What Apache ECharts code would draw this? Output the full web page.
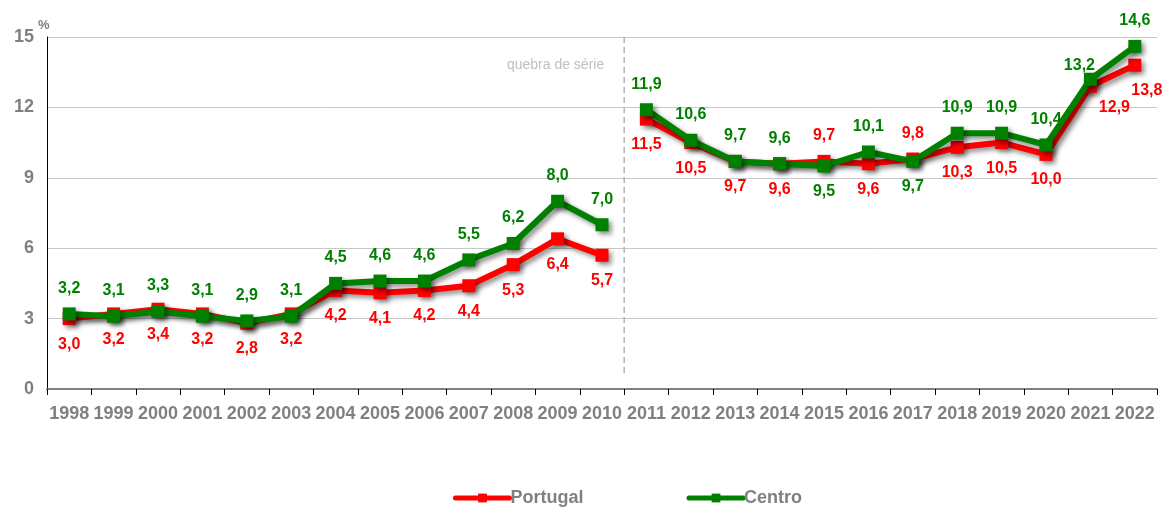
<!DOCTYPE html>
<html>
<head>
<meta charset="utf-8">
<script src="https://cdn.jsdelivr.net/npm/echarts@6/dist/echarts.min.js"></script>
<style>
  html, body { margin: 0; padding: 0; background: #fff; }
  #chart { width: 1165px; height: 507px; }
</style>
</head>
<body>
<div id="chart"></div>
<script>
// Years on the category axis
const years = ['1998','1999','2000','2001','2002','2003','2004','2005','2006','2007','2008','2009','2010',
               '2011','2012','2013','2014','2015','2016','2017','2018','2019','2020','2021','2022'];
// Values in %
const portugal = [3.0, 3.2, 3.4, 3.2, 2.8, 3.2, 4.2, 4.1, 4.2, 4.4, 5.3, 6.4, 5.7,
                  11.5, 10.5, 9.7, 9.6, 9.7, 9.6, 9.8, 10.3, 10.5, 10.0, 12.9, 13.8];
const centro   = [3.2, 3.1, 3.3, 3.1, 2.9, 3.1, 4.5, 4.6, 4.6, 5.5, 6.2, 8.0, 7.0,
                  11.9, 10.6, 9.7, 9.6, 9.5, 10.1, 9.7, 10.9, 10.9, 10.4, 13.2, 14.6];
const yTicks = [0, 3, 6, 9, 12, 15];
const breakAfter = '2010';       // last year before the series break
const breakLabel = 'quebra de série';

const RED = '#ff0000', GREEN = '#008000', GREY = '#808080';
const font = 'Liberation Sans, Arial, sans-serif';

// Label placement overrides (index → position / offset)
const portugalLabelPos = { 17: 'top', 19: 'top' };
const centroLabelPos   = { 17: 'bottom', 19: 'bottom' };
const portugalOffset   = { 23: [24, -4], 24: [12, 0] };
const centroOffset     = { 23: [-11, 12] };

const fmt = p => (typeof p.value === 'number' ? p.value.toFixed(1).replace('.', ',') : '');

// Split a series into two runs so the line is not drawn across the break
function seriesPair(name, values, color, defaultPos, posMap, offMap, z) {
  const cut = years.indexOf(breakAfter);
  const items = values.map((v, i) => {
    const lbl = { position: posMap[i] || defaultPos };
    if (offMap[i]) lbl.offset = offMap[i];
    return { value: v, label: lbl };
  });
  const runs = [items.map((d, i) => i <= cut ? d : '-'), items.map((d, i) => i > cut ? d : '-')];
  const shadow = { shadowColor: 'rgba(0,0,0,0.45)', shadowBlur: 5, shadowOffsetX: 3, shadowOffsetY: 3 };
  return runs.map(run => ({
    name: name,
    type: 'line',
    data: run,
    z: z,
    symbol: 'rect',
    symbolSize: 13,
    color: color,
    lineStyle: Object.assign({ width: 6, color: color }, shadow),
    itemStyle: Object.assign({ color: color }, shadow),
    label: {
      show: true, formatter: fmt, distance: 11,
      color: color, fontFamily: font, fontWeight: 'bold', fontSize: 16
    },
    emphasis: { disabled: true },
    animation: false
  }));
}

const series = [
  ...seriesPair('Portugal', portugal, RED, 'bottom', portugalLabelPos, portugalOffset, 2),
  ...seriesPair('Centro', centro, GREEN, 'top', centroLabelPos, centroOffset, 3)
];

const chart = echarts.init(document.getElementById('chart'), null, { renderer: 'canvas' });
chart.setOption({
  animation: false,
  grid: { left: 47, right: 8, top: 37, bottom: 118 },
  legend: {
    data: [
      { name: 'Portugal', itemStyle: { color: RED }, lineStyle: { color: RED, width: 5 } },
      { name: 'Centro', itemStyle: { color: GREEN }, lineStyle: { color: GREEN, width: 5 } }
    ],
    top: 484, left: 448, itemGap: 103, itemWidth: 54, itemHeight: 11,
    itemStyle: { shadowBlur: 0, shadowOffsetX: 0, shadowOffsetY: 0 },
    lineStyle: { width: 5, cap: 'round', shadowBlur: 0, shadowOffsetX: 0, shadowOffsetY: 0 },
    textStyle: { color: GREY, fontFamily: font, fontWeight: 'bold', fontSize: 18, padding: [0, 0, 0, -4] }
  },
  xAxis: {
    type: 'category', data: years, boundaryGap: true,
    axisLine: { lineStyle: { color: '#808080', width: 2 } },
    axisTick: { show: true, inside: false, length: 6, lineStyle: { color: '#000' } },
    axisLabel: { color: GREY, fontFamily: font, fontWeight: 'bold', fontSize: 18, margin: 16, interval: 0 }
  },
  yAxis: {
    type: 'value', min: yTicks[0], max: yTicks[yTicks.length - 1], interval: 3,
    axisLine: { show: true, lineStyle: { color: '#000', width: 1 } },
    axisTick: { show: false },
    splitLine: { lineStyle: { color: '#c8c8c8', width: 1 } },
    axisLabel: { color: GREY, fontFamily: font, fontWeight: 'bold', fontSize: 18, margin: 13 }
  },
  series: series
});

// Dashed separator halfway between the last year before and the first year after the break
const cut = years.indexOf(breakAfter);
const xA = chart.convertToPixel({ xAxisIndex: 0 }, years[cut]);
const xB = chart.convertToPixel({ xAxisIndex: 0 }, years[cut + 1]);
const xMid = (xA + xB) / 2;
const yTop = chart.convertToPixel({ yAxisIndex: 0 }, yTicks[yTicks.length - 1]);
const yBottom = chart.convertToPixel({ yAxisIndex: 0 }, 0.6);
chart.setOption({
  graphic: [
    {
      type: 'line', silent: true, z: 1,
      shape: { x1: xMid, y1: yTop, x2: xMid, y2: yBottom },
      style: { stroke: '#b4b4b4', lineWidth: 1.5, lineDash: [6, 4] }
    },
    {
      type: 'text', silent: true,
      style: { text: breakLabel, x: xMid - 20, y: yTop + 28, align: 'right', verticalAlign: 'middle',
               fill: '#c0c0c0', font: '14px ' + font }
    },
    {
      type: 'text', silent: true,
      style: { text: '%', x: 38, y: yTop - 12, verticalAlign: 'middle', fill: GREY, font: 'bold 13px ' + font }
    }
  ]
});
</script>
</body>
</html>
